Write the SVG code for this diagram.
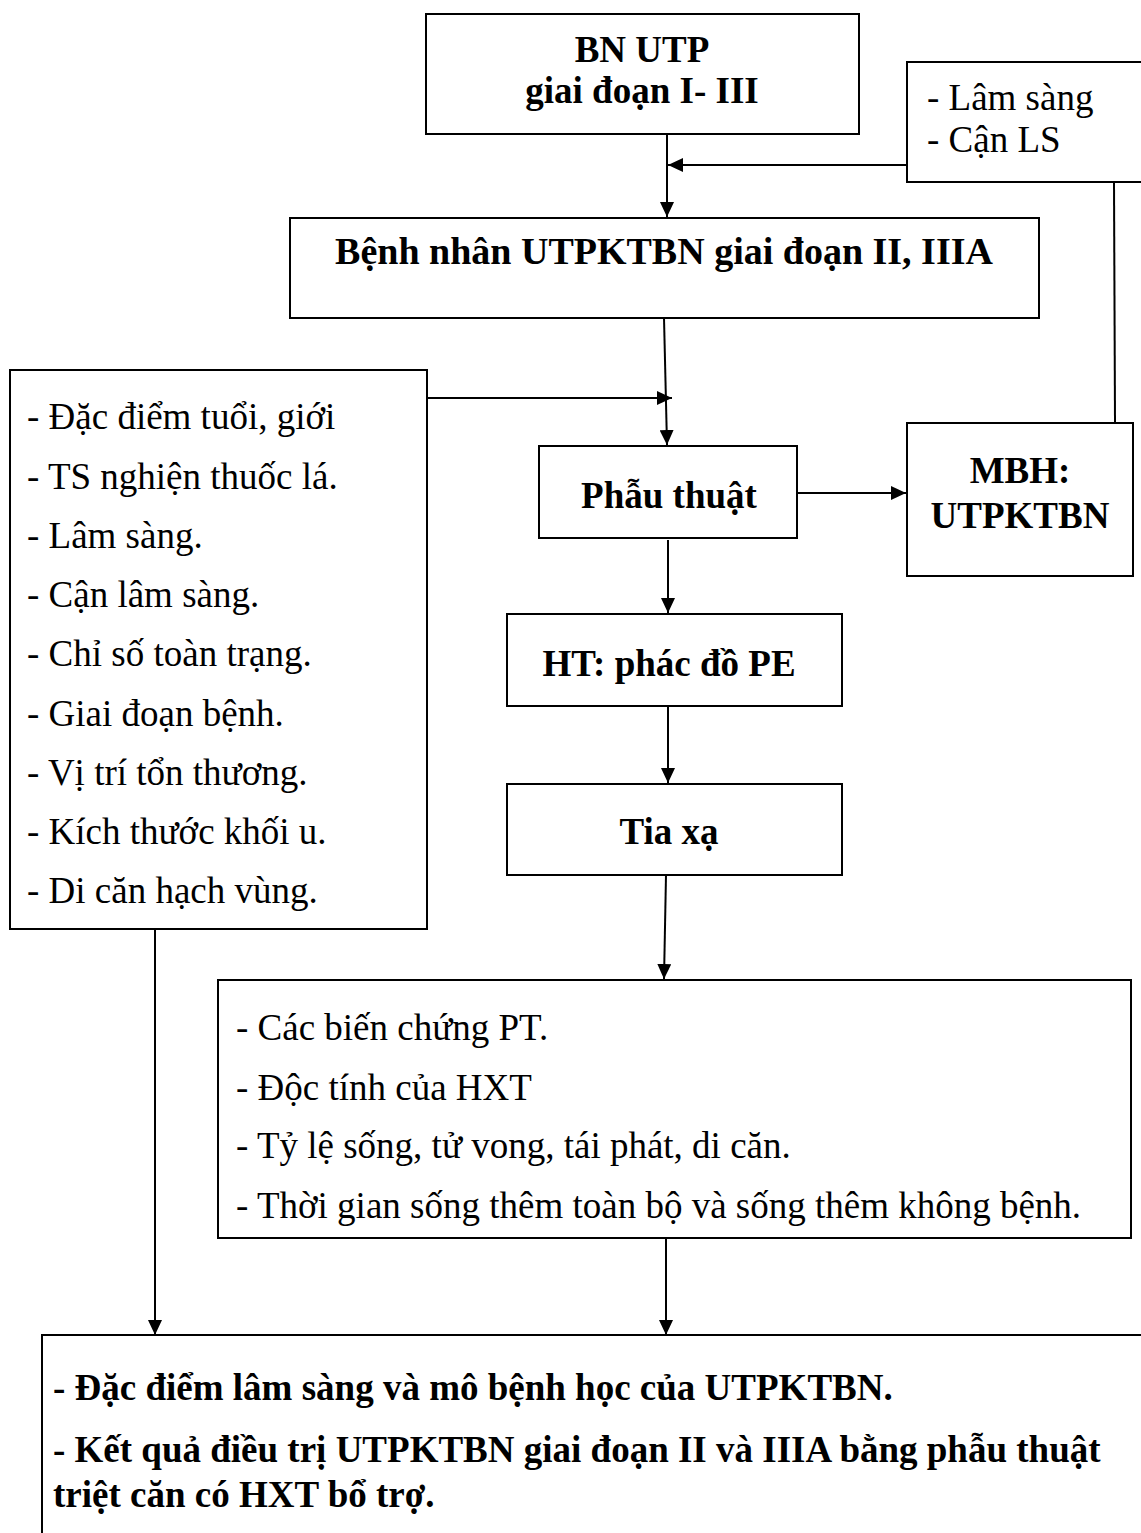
<svg xmlns="http://www.w3.org/2000/svg" width="1141" height="1533" viewBox="0 0 1141 1533">
<style>
.box{fill:#fff;stroke:#000;stroke-width:2}
.t{font-family:"Liberation Serif","Times New Roman",serif;font-size:37px;fill:#000}
.b{font-weight:bold}
.c{text-anchor:middle}
.ln{stroke:#000;stroke-width:2;fill:none}
</style>
<defs>
<marker id="ah" markerUnits="userSpaceOnUse" markerWidth="15" markerHeight="14" refX="15" refY="7" orient="auto">
<path d="M0,0 L15,7 L0,14 Z" fill="#000"/>
</marker>
</defs>
<rect width="1141" height="1533" fill="#fff"/>
<g id="connectors">
<line class="ln" x1="667" y1="134" x2="667" y2="217" marker-end="url(#ah)"/>
<line class="ln" x1="907" y1="165" x2="668" y2="165" marker-end="url(#ah)"/>
<line class="ln" x1="1114" y1="182" x2="1115" y2="423"/>
<line class="ln" x1="664" y1="318" x2="667" y2="445" marker-end="url(#ah)"/>
<line class="ln" x1="427" y1="398" x2="672" y2="398" marker-end="url(#ah)"/>
<line class="ln" x1="797" y1="493" x2="906" y2="493" marker-end="url(#ah)"/>
<line class="ln" x1="668" y1="540" x2="668" y2="613" marker-end="url(#ah)"/>
<line class="ln" x1="668" y1="706" x2="668" y2="783" marker-end="url(#ah)"/>
<line class="ln" x1="666" y1="875" x2="664" y2="979" marker-end="url(#ah)"/>
<line class="ln" x1="666" y1="1239" x2="666" y2="1335" marker-end="url(#ah)"/>
<line class="ln" x1="155" y1="929" x2="155" y2="1335" marker-end="url(#ah)"/>
</g>
<g id="n-bnutp">
<rect class="box" x="426" y="14" width="433" height="120"/>
<text class="t b c" x="642" y="62">BN UTP</text>
<text class="t b c" x="642" y="103">giai đoạn I- III</text>
</g>
<g id="n-lamsang">
<rect class="box" x="907" y="62" width="250" height="120"/>
<text class="t" x="927" y="110">- Lâm sàng</text>
<text class="t" x="927" y="152">- Cận LS</text>
</g>
<g id="n-benhnhan">
<rect class="box" x="290" y="218" width="749" height="100"/>
<text class="t b c" x="664" y="264" style="font-size:38px">Bệnh nhân UTPKTBN giai đoạn II, IIIA</text>
</g>
<g id="n-dacdiem">
<rect class="box" x="10" y="370" width="417" height="559"/>
<text class="t" x="27" y="429">- Đặc điểm tuổi, giới</text>
<text class="t" x="27" y="489">- TS nghiện thuốc lá.</text>
<text class="t" x="27" y="548">- Lâm sàng.</text>
<text class="t" x="27" y="607">- Cận lâm sàng.</text>
<text class="t" x="27" y="666">- Chỉ số toàn trạng.</text>
<text class="t" x="27" y="726">- Giai đoạn bệnh.</text>
<text class="t" x="27" y="785">- Vị trí tổn thương.</text>
<text class="t" x="27" y="844">- Kích thước khối u.</text>
<text class="t" x="27" y="903">- Di căn hạch vùng.</text>
</g>
<g id="n-phauthuat">
<rect class="box" x="539" y="446" width="258" height="92"/>
<text class="t b c" x="669" y="508">Phẫu thuật</text>
</g>
<g id="n-mbh">
<rect class="box" x="907" y="423" width="226" height="153"/>
<text class="t b c" x="1020" y="483">MBH:</text>
<text class="t b c" x="1020" y="528">UTPKTBN</text>
</g>
<g id="n-ht">
<rect class="box" x="507" y="614" width="335" height="92"/>
<text class="t b c" x="669" y="676">HT: phác đồ PE</text>
</g>
<g id="n-tiaxa">
<rect class="box" x="507" y="784" width="335" height="91"/>
<text class="t b c" x="669" y="844">Tia xạ</text>
</g>
<g id="n-ketqua">
<rect class="box" x="218" y="980" width="913" height="258"/>
<text class="t" x="236" y="1040">- Các biến chứng PT.</text>
<text class="t" x="236" y="1100">- Độc tính của HXT</text>
<text class="t" x="236" y="1158">- Tỷ lệ sống, tử vong, tái phát, di căn.</text>
<text class="t" x="236" y="1218">- Thời gian sống thêm toàn bộ và sống thêm không bệnh.</text>
</g>
<g id="n-muctieu">
<rect class="box" x="42" y="1335" width="1110" height="210"/>
<text class="t b" x="53" y="1400">- Đặc điểm lâm sàng và mô bệnh học của UTPKTBN.</text>
<text class="t b" x="53" y="1462">- Kết quả điều trị UTPKTBN giai đoạn II và IIIA bằng phẫu thuật</text>
<text class="t b" x="53" y="1507">triệt căn có HXT bổ trợ.</text>
</g>
</svg>
